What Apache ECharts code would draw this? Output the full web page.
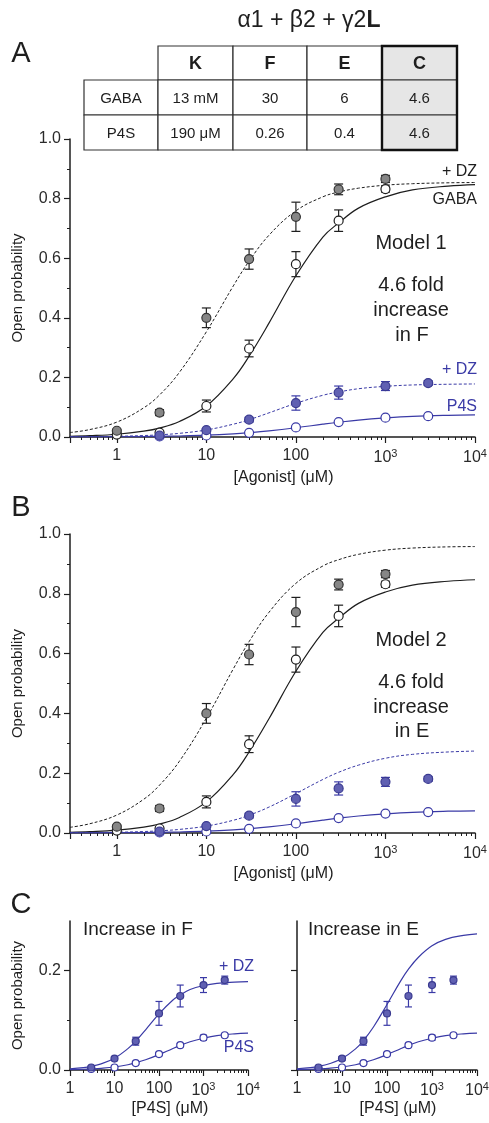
<!DOCTYPE html>
<html>
<head>
<meta charset="utf-8">
<script src="https://cdn.jsdelivr.net/npm/echarts@6/dist/echarts.min.js"></script>
<style>
html, body { margin: 0; padding: 0; background: #fff; }
#chart { width: 489px; height: 1123px; }
</style>
</head>
<body>
<div id="chart"></div>
<script>
// measured open probabilities (mean +/- sem)
const concGaba = [1, 3, 10, 30, 100, 300, 1000];
const gabaPo = [0.008, 0.015, 0.104, 0.297, 0.580, 0.726, 0.832];
const gabaErr = [0.003, 0.005, 0.020, 0.028, 0.042, 0.036, 0.010];
const gabaDzPo = [0.021, 0.082, 0.400, 0.597, 0.739, 0.831, 0.866];
const gabaDzErr = [0.005, 0.010, 0.033, 0.034, 0.049, 0.018, 0.012];

const concP4s = [3, 10, 30, 100, 300, 1000, 3000];
const p4sPo = [0.002, 0.005, 0.014, 0.032, 0.050, 0.065, 0.070];
const p4sErr = [0.001, 0.001, 0.002, 0.003, 0.003, 0.005, 0.003];
const p4sDzPo = [0.005, 0.023, 0.058, 0.114, 0.149, 0.171, 0.181];
const p4sDzErr = [0.003, 0.004, 0.008, 0.024, 0.022, 0.015, 0.008];

// model curves
const fitConc = [0.3, 0.5, 1, 2, 3, 5, 10, 20, 30, 50, 100, 200, 300, 500, 1000, 2000, 5000, 10000];
const fitGaba = [0.0025, 0.0044, 0.0093, 0.0197, 0.030, 0.052, 0.104, 0.196, 0.271, 0.382, 0.541, 0.671, 0.718, 0.768, 0.806, 0.829, 0.842, 0.847];
const fitGabaDz1 = [0.015, 0.025, 0.050, 0.098, 0.141, 0.217, 0.353, 0.507, 0.590, 0.677, 0.759, 0.806, 0.822, 0.835, 0.845, 0.850, 0.853, 0.854];
const fitGabaDz2 = [0.019, 0.031, 0.060, 0.113, 0.160, 0.240, 0.384, 0.549, 0.640, 0.738, 0.835, 0.893, 0.914, 0.932, 0.946, 0.953, 0.957, 0.958];
const fitP4s = [0.0003, 0.0004, 0.0008, 0.0015, 0.0022, 0.0034, 0.0061, 0.0106, 0.0145, 0.0206, 0.031, 0.0429, 0.0495, 0.0568, 0.064, 0.0693, 0.0729, 0.0743];
const fitP4sDz1 = [0.0007, 0.0012, 0.0024, 0.0049, 0.0074, 0.0123, 0.0237, 0.043, 0.058, 0.081, 0.113, 0.140, 0.151, 0.162, 0.170, 0.1746, 0.177, 0.178];
const fitP4sDz2 = [0.0008, 0.0013, 0.0025, 0.0049, 0.0073, 0.012, 0.0231, 0.0426, 0.0594, 0.0866, 0.132, 0.179, 0.203, 0.227, 0.250, 0.263, 0.271, 0.274];

// table
const tableHead = ['K', 'F', 'E', 'C'];
const tableGaba = ['GABA', '13 mM', '30', '6', '4.6'];
const tableP4s = ['P4S', '190 μM', '0.26', '0.4', '4.6'];

const FONT = "'Liberation Sans', Arial, sans-serif";
const black = '#1e1e1e';
const blue = '#3a3aa6';
const blueFill = '#6060b2';
const grayFill = '#868686';

const chart = echarts.init(document.getElementById('chart'));

function logLabel(v) {
  const l = Math.log10(v);
  const e = Math.round(l);
  if (Math.abs(l - e) > 1e-6) return '';
  if (e < 3) return String(Math.pow(10, e));
  return '10{sup|' + e + '}';
}

function xAxisLog(grid, min, name, labelMargin, nameGap) {
  return {
    type: 'log', logBase: 10, gridIndex: grid, min: min, max: 10000,
    name: name, nameLocation: 'middle', nameGap: nameGap,
    nameTextStyle: { fontSize: 16, color: black, padding: [0, 0, 0, 22] },
    axisLine: { lineStyle: { color: black, width: 1.5 } },
    axisTick: { length: 6, lineStyle: { color: black, width: 1.2 } },
    minorTick: { show: true, splitNumber: 9, length: 3, lineStyle: { color: black, width: 1 } },
    axisLabel: {
      formatter: logLabel, fontSize: 16, color: '#2a2a2a', margin: labelMargin,
      rich: { sup: { fontSize: 11, padding: [0, 0, 9, 0] } }
    },
    splitLine: { show: false }
  };
}

function yAxisMain(grid) {
  return {
    type: 'value', gridIndex: grid, min: 0, max: 1, interval: 0.2,
    name: 'Open probability', nameLocation: 'middle', nameGap: 45,
    nameTextStyle: { fontSize: 15, color: black },
    axisLine: { show: true, lineStyle: { color: black, width: 1.5 } },
    axisTick: { show: true, length: 6, lineStyle: { color: black, width: 1.2 } },
    minorTick: { show: true, splitNumber: 2, length: 3, lineStyle: { color: black, width: 1 } },
    axisLabel: { formatter: v => v.toFixed(1), fontSize: 16, color: '#2a2a2a', margin: 9 },
    splitLine: { show: false }
  };
}

function yAxisC(grid, withLabels) {
  return {
    type: 'value', gridIndex: grid, min: 0, max: 0.3, interval: 0.2,
    name: withLabels ? 'Open probability' : '', nameLocation: 'middle', nameGap: 45,
    nameTextStyle: { fontSize: 15, color: black },
    axisLine: { show: true, lineStyle: { color: black, width: 1.5 } },
    axisTick: { show: true, length: 6, customValues: [0, 0.2], lineStyle: { color: black, width: 1.2 } },
    minorTick: { show: true, splitNumber: 2, length: 3, lineStyle: { color: black, width: 1 } },
    axisLabel: {
      show: withLabels, customValues: [0, 0.2],
      formatter: v => v.toFixed(1), fontSize: 16, color: '#2a2a2a', margin: 9
    },
    splitLine: { show: false }
  };
}

function fitSeries(g, ys, color, dashed, from) {
  return {
    type: 'line', xAxisIndex: g, yAxisIndex: g,
    data: fitConc.map((c, i) => [c, ys[i]]).slice(from),
    showSymbol: false, symbol: 'none', smooth: 0.4, silent: true, z: 2,
    lineStyle: { color: color, width: dashed ? 1 : 1.2, type: dashed ? [3, 2] : 'solid' }
  };
}

function errSeries(g, conc, po, err, color, cap) {
  return {
    type: 'custom', xAxisIndex: g, yAxisIndex: g, silent: true, z: 3,
    data: conc.map((c, i) => [c, po[i] - err[i], po[i] + err[i]]),
    encode: { x: 0, y: [1, 2] },
    renderItem: function (params, api) {
      const lo = api.coord([api.value(0), api.value(1)]);
      const hi = api.coord([api.value(0), api.value(2)]);
      const style = { stroke: color, lineWidth: 1.2 };
      return {
        type: 'group',
        children: [
          { type: 'line', shape: { x1: lo[0], y1: lo[1], x2: hi[0], y2: hi[1] }, style: style },
          { type: 'line', shape: { x1: lo[0] - cap, y1: lo[1], x2: lo[0] + cap, y2: lo[1] }, style: style },
          { type: 'line', shape: { x1: hi[0] - cap, y1: hi[1], x2: hi[0] + cap, y2: hi[1] }, style: style }
        ]
      };
    }
  };
}

function pointSeries(g, conc, po, fill, stroke, size, z) {
  return {
    type: 'scatter', xAxisIndex: g, yAxisIndex: g, silent: true, z: z,
    data: conc.map((c, i) => [c, po[i]]),
    symbol: 'circle', symbolSize: size,
    itemStyle: { color: fill, borderColor: stroke, borderWidth: 1.2, opacity: 1 }
  };
}

function dataSet(g, size, cap, gaba) {
  const out = [];
  if (gaba) {
    out.push(errSeries(g, concGaba, gabaDzPo, gabaDzErr, black, cap));
    out.push(errSeries(g, concGaba, gabaPo, gabaErr, black, cap));
  }
  out.push(errSeries(g, concP4s, p4sDzPo, p4sDzErr, blue, cap));
  out.push(errSeries(g, concP4s, p4sPo, p4sErr, blue, cap));
  if (gaba) {
    out.push(pointSeries(g, concGaba, gabaPo, '#fff', black, size, 4));
    out.push(pointSeries(g, concGaba, gabaDzPo, grayFill, '#333', size, 5));
  }
  out.push(pointSeries(g, concP4s, p4sPo, '#fff', blue, size, 6));
  out.push(pointSeries(g, concP4s, p4sDzPo, blueFill, '#3a3a90', size, 7));
  return out;
}

function txt(text, x, y, size, color, align, weight) {
  return {
    type: 'text', x: x, y: y, silent: true, z: 20,
    style: {
      text: text, fill: color || black, textAlign: align || 'center', verticalAlign: 'middle',
      font: (weight || 'normal') + ' ' + size + 'px ' + FONT
    }
  };
}

// table as graphic cells
const colX = [84, 158, 233, 307, 382, 457];
const rowY = [46, 80, 115, 150];
const tableEls = [];
for (let c = 1; c < 5; c++) {
  tableEls.push({ type: 'rect', silent: true, z: 10,
    shape: { x: colX[c], y: rowY[0], width: colX[c + 1] - colX[c], height: rowY[1] - rowY[0] },
    style: { fill: c === 4 ? '#e6e6e6' : '#fff', stroke: '#333', lineWidth: 1.2 } });
  tableEls.push(txt(tableHead[c - 1], (colX[c] + colX[c + 1]) / 2, (rowY[0] + rowY[1]) / 2 + 1, 18, black, 'center', 'bold'));
}
[tableGaba, tableP4s].forEach(function (row, r) {
  for (let c = 0; c < 5; c++) {
    tableEls.push({ type: 'rect', silent: true, z: 10,
      shape: { x: colX[c], y: rowY[r + 1], width: colX[c + 1] - colX[c], height: rowY[r + 2] - rowY[r + 1] },
      style: { fill: c === 4 ? '#e6e6e6' : '#fff', stroke: '#333', lineWidth: 1.2 } });
    tableEls.push(txt(row[c], (colX[c] + colX[c + 1]) / 2, (rowY[r + 1] + rowY[r + 2]) / 2 + 1, 15, black));
  }
});
tableEls.push({ type: 'rect', silent: true, z: 11,
  shape: { x: colX[4], y: rowY[0], width: colX[5] - colX[4], height: rowY[3] - rowY[0] },
  style: { fill: 'none', stroke: '#111', lineWidth: 2.4 } });

const graphics = tableEls.concat([
  { type: 'text', x: 309, y: 21, silent: true,
    style: { text: '{n|α1 + β2 + γ2}{b|L}', textAlign: 'center', verticalAlign: 'middle',
      rich: { n: { fontSize: 23, fontFamily: FONT, fill: black }, b: { fontSize: 23, fontWeight: 'bold', fontFamily: FONT, fill: black } } } },
  txt('A', 21, 54, 29, black),
  txt('B', 21, 508, 29, black),
  txt('C', 21, 905, 29, black),
  // panel A notes
  txt('+ DZ', 477, 172, 16, black, 'right'),
  txt('GABA', 477, 200, 16, black, 'right'),
  txt('Model 1', 411, 243, 20, black),
  txt('4.6 fold', 411, 285, 20, black),
  txt('increase', 411, 310, 20, black),
  txt('in F', 412, 335, 20, black),
  txt('+ DZ', 477, 370, 16, blue, 'right'),
  txt('P4S', 477, 407, 16, blue, 'right'),
  // panel B notes
  txt('Model 2', 411, 640, 20, black),
  txt('4.6 fold', 411, 682, 20, black),
  txt('increase', 411, 707, 20, black),
  txt('in E', 412, 731, 20, black),
  // panel C notes
  txt('Increase in F', 83, 930, 19, black, 'left'),
  txt('Increase in E', 308, 930, 19, black, 'left'),
  txt('+ DZ', 254, 967, 16, blue, 'right'),
  txt('P4S', 254, 1048, 16, blue, 'right')
]);

const option = {
  animation: false,
  backgroundColor: '#fff',
  textStyle: { fontFamily: FONT },
  grid: [
    { left: 70, top: 139, width: 405, height: 298, outerBoundsMode: 'none' },
    { left: 70, top: 534, width: 405, height: 299, outerBoundsMode: 'none' },
    { left: 70, top: 921, width: 178, height: 149, outerBoundsMode: 'none' },
    { left: 297, top: 921, width: 180, height: 149, outerBoundsMode: 'none' }
  ],
  xAxis: [
    xAxisLog(0, 0.3, '[Agonist] (μM)', 11, 33),
    xAxisLog(1, 0.3, '[Agonist] (μM)', 11, 33),
    xAxisLog(2, 1, '[P4S] (μM)', 11, 31),
    xAxisLog(3, 1, '[P4S] (μM)', 11, 31)
  ],
  yAxis: [yAxisMain(0), yAxisMain(1), yAxisC(2, true), yAxisC(3, false)],
  series: [].concat(
    [
      fitSeries(0, fitGabaDz1, black, true, 0),
      fitSeries(0, fitGaba, black, false, 0),
      fitSeries(0, fitP4sDz1, blue, true, 0),
      fitSeries(0, fitP4s, blue, false, 0)
    ],
    dataSet(0, 9, 4.5, true),
    [
      fitSeries(1, fitGabaDz2, black, true, 0),
      fitSeries(1, fitGaba, black, false, 0),
      fitSeries(1, fitP4sDz2, blue, true, 0),
      fitSeries(1, fitP4s, blue, false, 0)
    ],
    dataSet(1, 9, 4.5, true),
    [
      fitSeries(2, fitP4sDz1, blue, false, 2),
      fitSeries(2, fitP4s, blue, false, 2)
    ],
    dataSet(2, 7, 3.5, false),
    [
      fitSeries(3, fitP4sDz2, blue, false, 2),
      fitSeries(3, fitP4s, blue, false, 2)
    ],
    dataSet(3, 7, 3.5, false)
  ),
  graphic: graphics
};

chart.setOption(option);
</script>
</body>
</html>
